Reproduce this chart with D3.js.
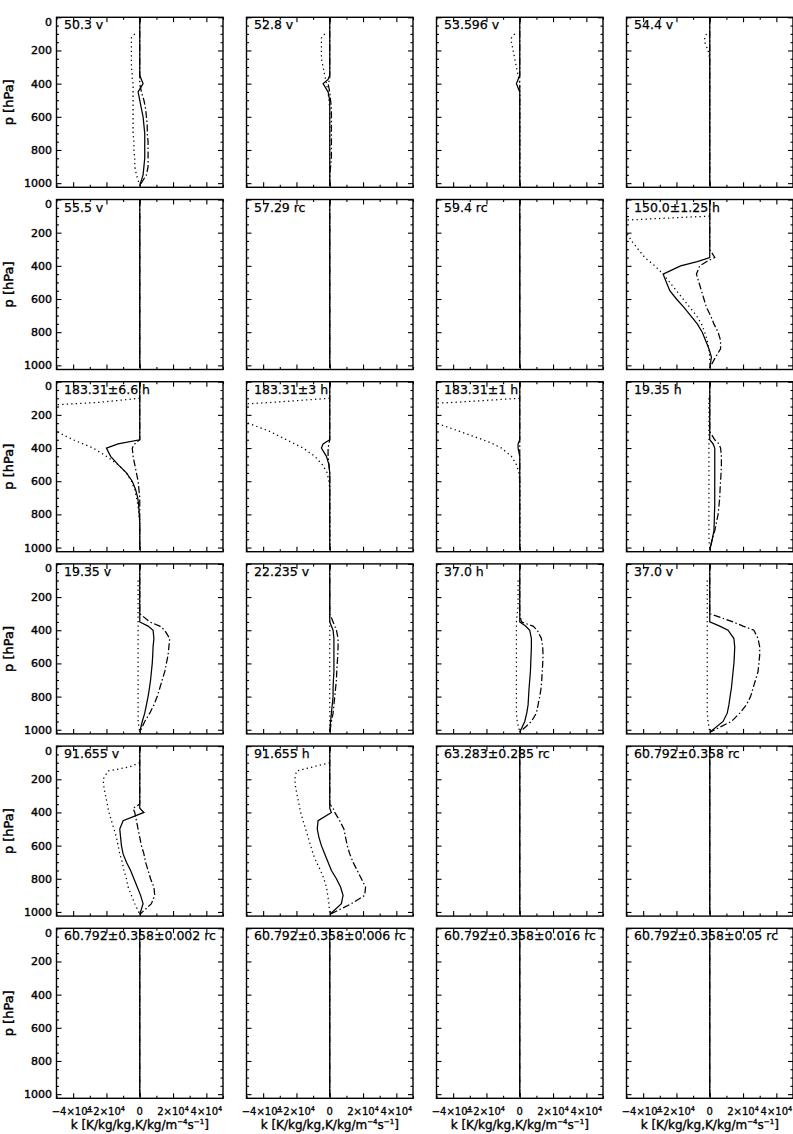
<!DOCTYPE html>
<html><head><meta charset="utf-8">
<script src="https://cdn.jsdelivr.net/npm/d3@7"></script>
<style>body{margin:0;background:#fff}svg{display:block}</style>
</head><body><svg id="c" width="793" height="1134"></svg>
<script>
// pressure levels [hPa]
const pressureLevels = [0,100,125,150,200,250,300,350,375,400,450,500,550,600,650,700,750,800,850,900,950,1015];
const panelTitles = [
  "50.3 v","52.8 v","53.596 v","54.4 v",
  "55.5 v","57.29 rc","59.4 rc","150.0±1.25 h",
  "183.31±6.6 h","183.31±3 h","183.31±1 h","19.35 h",
  "19.35 v","22.235 v","37.0 h","37.0 v",
  "91.655 v","91.655 h","63.283±0.285 rc","60.792±0.358 rc",
  "60.792±0.358±0.002 rc","60.792±0.358±0.006 rc","60.792±0.358±0.016 rc","60.792±0.358±0.05 rc"
];
// values in units of 1e4 K/kg/kg (one row per panel, one value per pressure level)
const VALUE_UNIT = 1e4;
const solidProfiles = [
  [0,0,0,0,0,0,0,0,0.1,0.2,-0.1,0,0.1,0.2,0.25,0.3,0.3,0.3,0.3,0.25,0.2,0],
  [0,0,0,0,0,0,0,0,-0.1,-0.4,-0.1,0,0,0,0,0,0,0,0,0,0,0],
  [0,0,0,0,0,0,0,0,-0.1,-0.2,0,0,0,0,0,0,0,0,0,0,0,0],
  [0,0,0,0,0,0,0,0,0,0,0,0,0,0,0,0,0,0,0,0,0,0],
  [0,0,0,0,0,0,0,0,0,0,0,0,0,0,0,0,0,0,0,0,0,0],
  [0,0,0,0,0,0,0,0,0,0,0,0,0,0,0,0,0,0,0,0,0,0],
  [0,0,0,0,0,0,0,0,0,0,0,0,0,0,0,0,0,0,0,0,0,0],
  [0,0,0,0,0,0,0,0,-0.75,-1.75,-2.8,-2.6,-2.4,-2.0,-1.55,-1.15,-0.75,-0.45,-0.25,-0.05,0.1,0],
  [0,0,0,0,0,0,0,0,-1.3,-2.0,-1.75,-1.3,-0.8,-0.45,-0.25,-0.12,-0.06,-0.03,0,0,0,0],
  [0,0,0,0,0,0,0,0,-0.4,-0.5,-0.2,-0.05,0,0,0,0,0,0,0,0,0,0],
  [0,0,0,0,0,0,0,0,-0.1,-0.1,0,0,0,0,0,0,0,0,0,0,0,0],
  [0,0,0,0,0,0,0,0,0.2,0.3,0.3,0.3,0.3,0.3,0.3,0.3,0.3,0.28,0.27,0.25,0.15,0],
  [0,0,0,0,0,0,0,0,0.5,0.8,0.85,0.8,0.78,0.75,0.7,0.65,0.58,0.5,0.4,0.3,0.15,0],
  [0,0,0,0,0,0,0,0,0.1,0.2,0.25,0.25,0.25,0.25,0.25,0.22,0.2,0.2,0.15,0.1,0.05,0],
  [0,0,0,0,0,0,0,0,0.35,0.6,0.7,0.7,0.68,0.66,0.64,0.6,0.56,0.53,0.5,0.42,0.3,0],
  [0,0,0,0,0,0,0,0,0.6,1.1,1.45,1.5,1.48,1.45,1.4,1.35,1.3,1.22,1.15,1.05,0.8,0],
  [0,0,0,0,0,0,0,0,0,0.25,-1.0,-1.2,-1.15,-1.1,-1.0,-0.8,-0.55,-0.35,-0.15,0.05,0.2,0],
  [0,0,0,0,0,0,0,0,0,0.1,-0.7,-0.75,-0.65,-0.5,-0.3,-0.1,0.1,0.4,0.65,0.8,0.7,0],
  [0,0,0,0,0,0,0,0,0,0,0,0,0,0,0,0,0,0,0,0,0,0],
  [0,0,0,0,0,0,0,0,0,0,0,0,0,0,0,0,0,0,0,0,0,0],
  [0,0,0,0,0,0,0,0,0,0,0,0,0,0,0,0,0,0,0,0,0,0],
  [0,0,0,0,0,0,0,0,0,0,0,0,0,0,0,0,0,0,0,0,0,0],
  [0,0,0,0,0,0,0,0,0,0,0,0,0,0,0,0,0,0,0,0,0,0],
  [0,0,0,0,0,0,0,0,0,0,0,0,0,0,0,0,0,0,0,0,0,0]
];
const dashDotProfiles = [
  [0,0,0,0,0,0,0,0,0,0,0.1,0.25,0.35,0.4,0.45,0.45,0.5,0.5,0.5,0.5,0.4,0],
  [0,0,0,0,0,0,0,0,0,-0.1,0,0.05,0.1,0.1,0.1,0.1,0.1,0.1,0.1,0.05,0,0],
  [0,0,0,0,0,0,0,0,0,0,0,0,0,0,0,0,0,0,0,0,0,0],
  [0,0,0,0,0,0,0,0,0,0,0,0,0,0,0,0,0,0,0,0,0,0],
  [0,0,0,0,0,0,0,0,0,0,0,0,0,0,0,0,0,0,0,0,0,0],
  [0,0,0,0,0,0,0,0,0,0,0,0,0,0,0,0,0,0,0,0,0,0],
  [0,0,0,0,0,0,0,0,0,0,0,0,0,0,0,0,0,0,0,0,0,0],
  [0,0,0,0,0,0,0,0.3,-0.2,-0.6,-0.8,-0.65,-0.5,-0.35,-0.2,0.05,0.25,0.5,0.65,0.65,0.35,0],
  [0,0,0,0,0,0,0,0,-0.3,-0.45,-0.4,-0.3,-0.2,-0.1,-0.05,0,0,0,0,0,0,0],
  [0,0,0,0,0,0,0,0,-0.05,-0.1,-0.1,-0.05,0,0,0,0,0,0,0,0,0,0],
  [0,0,0,0,0,0,0,0,0,0,0,0,0,0,0,0,0,0,0,0,0,0],
  [0,0,0,0,0,0,0,0.3,0.55,0.65,0.7,0.7,0.68,0.65,0.62,0.6,0.55,0.5,0.4,0.3,0.15,0],
  [0,0,0,0,0,0,0,0.6,1.2,1.5,1.8,1.75,1.7,1.6,1.5,1.35,1.2,1.05,0.85,0.6,0.3,0],
  [0,0,0,0,0,0,0,0.2,0.3,0.4,0.5,0.5,0.48,0.45,0.42,0.4,0.35,0.3,0.25,0.2,0.1,0],
  [0,0,0,0,0,0,0,0.1,0.8,1.05,1.3,1.38,1.4,1.38,1.35,1.32,1.28,1.2,1.1,1.0,0.7,0],
  [0,0,0,0,0,0,0,1.4,2.0,2.65,2.9,3.0,3.0,2.95,2.9,2.75,2.6,2.45,2.2,1.8,1.3,0],
  [0,0,0,0,0,0,0,0,-0.4,-0.3,-0.2,-0.1,0,0.1,0.25,0.35,0.5,0.65,0.85,0.9,0.7,0],
  [0,0,0,0,0,0,0,0,0.2,0.3,0.6,0.85,0.95,1.05,1.2,1.4,1.65,1.9,2.15,2.1,1.3,0],
  [0,0,0,0,0,0,0,0,0,0,0,0,0,0,0,0,0,0,0,0,0,0],
  [0,0,0,0,0,0,0,0,0,0,0,0,0,0,0,0,0,0,0,0,0,0],
  [0,0,0,0,0,0,0,0,0,0,0,0,0,0,0,0,0,0,0,0,0,0],
  [0,0,0,0,0,0,0,0,0,0,0,0,0,0,0,0,0,0,0,0,0,0],
  [0,0,0,0,0,0,0,0,0,0,0,0,0,0,0,0,0,0,0,0,0,0],
  [0,0,0,0,0,0,0,0,0,0,0,0,0,0,0,0,0,0,0,0,0,0]
];
const dottedProfiles = [
  [null,-0.3,-0.5,-0.5,-0.5,-0.5,-0.5,-0.45,-0.45,-0.4,-0.4,-0.4,-0.4,-0.4,-0.4,-0.4,-0.35,-0.35,-0.3,-0.3,-0.2,0],
  [null,-0.3,-0.5,-0.5,-0.5,-0.5,-0.4,-0.3,-0.25,-0.2,-0.1,-0.05,0,0,0,0,0,0,0,0,0,0],
  [null,-0.3,-0.5,-0.5,-0.4,-0.3,-0.2,-0.1,-0.05,0,0,0,0,0,0,0,0,0,0,0,0,0],
  [null,-0.2,-0.3,-0.3,-0.1,0,0,0,0,0,0,0,0,0,0,0,0,0,0,0,0,0],
  [null,0,0,0,0,0,0,0,0,0,0,0,0,0,0,0,0,0,0,0,0,0],
  [null,0,0,0,0,0,0,0,0,0,0,0,0,0,0,0,0,0,0,0,0,0],
  [null,0,0,0,0,0,0,0,0,0,0,0,0,0,0,0,0,0,0,0,0,0],
  [null,0,-5.2,-10,-5.0,-4.7,-4.3,-3.9,-3.6,-3.3,-2.8,-2.4,-2.0,-1.6,-1.2,-0.8,-0.5,-0.3,-0.15,-0.05,0,0],
  [null,0,-2.5,-7,-12,-9,-5.0,-4.0,-3.4,-2.8,-2.0,-1.3,-0.8,-0.5,-0.3,-0.2,-0.1,-0.05,0,0,0,0],
  [null,0,-3.5,-8,-9,-4.9,-3.6,-2.6,-2.1,-1.6,-0.9,-0.45,-0.15,-0.05,0,0,0,0,0,0,0,0],
  [null,0,-4,-9,-8,-5.0,-3.6,-2.2,-1.6,-1.1,-0.5,-0.2,-0.05,0,0,0,0,0,0,0,0,0],
  [null,-0.05,-0.05,-0.05,-0.05,-0.05,-0.05,-0.05,-0.05,-0.05,-0.05,-0.05,-0.05,-0.05,-0.05,-0.05,-0.05,-0.05,-0.05,-0.05,-0.05,0],
  [null,-0.1,-0.1,-0.1,-0.1,-0.1,-0.1,-0.1,-0.1,-0.1,-0.1,-0.1,-0.1,-0.1,-0.1,-0.1,-0.1,-0.1,-0.1,-0.1,-0.1,0],
  [null,0,0,0,0,0,0,0,0,0,0,0,0,0,0,0,0,0,0,0,0,0],
  [null,-0.1,-0.1,-0.1,-0.1,-0.1,-0.15,-0.2,-0.2,-0.2,-0.2,-0.2,-0.2,-0.2,-0.2,-0.2,-0.2,-0.2,-0.2,-0.2,-0.15,0],
  [null,-0.15,-0.15,-0.15,-0.15,-0.15,-0.15,-0.15,-0.15,-0.15,-0.15,-0.15,-0.15,-0.15,-0.15,-0.15,-0.15,-0.15,-0.15,-0.15,-0.1,0],
  [null,0,-0.6,-1.9,-2.2,-2.15,-2.05,-1.95,-1.9,-1.85,-1.7,-1.55,-1.4,-1.3,-1.2,-1.05,-0.95,-0.8,-0.7,-0.5,-0.3,0],
  [null,0,-1.0,-2.0,-2.1,-2.05,-1.95,-1.85,-1.8,-1.75,-1.6,-1.45,-1.3,-1.15,-1.0,-0.8,-0.55,-0.35,-0.2,-0.12,-0.05,0],
  [null,0,0,0,0,0,0,0,0,0,0,0,0,0,0,0,0,0,0,0,0,0],
  [null,0,0,0,0,0,0,0,0,0,0,0,0,0,0,0,0,0,0,0,0,0],
  [null,0,0,0,0,0,0,0,0,0,0,0,0,0,0,0,0,0,0,0,0,0],
  [null,0,0,0,0,0,0,0,0,0,0,0,0,0,0,0,0,0,0,0,0,0],
  [null,0,0,0,0,0,0,0,0,0,0,0,0,0,0,0,0,0,0,0,0,0],
  [null,0,0,0,0,0,0,0,0,0,0,0,0,0,0,0,0,0,0,0,0,0]
];
const xMajorTicks = [-4e4,-2e4,0,2e4,4e4];
const xMinorTicks = [-5e4,-3e4,-1e4,1e4,3e4,5e4];
const xTickMantissa = ["−4","−2","0","2","4"];
const yMajorTicks = [0,200,400,600,800,1000];
const yMinorTicks = [50,100,150,250,300,350,450,500,550,650,700,750,850,900,950];
const yAxisTitle = "p [hPa]";
const xAxisTitleParts = ["k [K/kg/kg,K/kg/m","−4","s","−1","]"];

const FONT = "'DejaVu Sans', sans-serif";
const svg = d3.select('#c');
const PW = 166.5, PH = 170;
const colLeft = c => 56.5 + 190 * c;
const rowTop = r => 17.3 + 182.2 * r;
const x = d3.scaleLinear().domain([-5e4, 5e4]).range([0, PW]);
const y = d3.scaleLinear().domain([0, 1025]).range([0, PH]);

const styles = [
  {data: solidProfiles, dash: null},
  {data: dashDotProfiles, dash: "7,2.5,1.5,2.5"},
  {data: dottedProfiles, dash: "1.3,3.2"}
];
const line = d3.line()
  .defined(d => d.v !== null)
  .x(d => x(d.v * VALUE_UNIT))
  .y(d => y(d.p));

function tickAxis(g, axisFn, scale, vals, len) {
  const a = axisFn(scale).tickValues(vals).tickSize(-len).tickFormat('');
  g.call(a);
  g.select('.domain').remove();
  g.selectAll('line').attr('stroke', '#000').attr('stroke-width', 1.1);
}
function heavy(sel, w) {
  return sel.attr('fill', '#000').attr('stroke', '#000').attr('stroke-width', w)
    .attr('font-family', FONT);
}

panelTitles.forEach((title, i) => {
  const r = Math.floor(i / 4), c = i % 4;
  const g = svg.append('g').attr('transform', `translate(${colLeft(c)},${rowTop(r)})`);
  const clipId = 'clip' + i;
  g.append('clipPath').attr('id', clipId).append('rect').attr('width', PW).attr('height', PH);
  const lg = g.append('g').attr('clip-path', `url(#${clipId})`);
  styles.forEach(s => {
    const pts = pressureLevels.map((p, k) => ({p, v: s.data[i][k]}));
    lg.append('path').attr('d', line(pts))
      .attr('fill', 'none').attr('stroke', '#000').attr('stroke-width', 1.25)
      .attr('stroke-dasharray', s.dash);
  });
  // ticks on all sides (inward)
  tickAxis(g.append('g'), d3.axisLeft, y, yMajorTicks, 5);
  tickAxis(g.append('g'), d3.axisLeft, y, yMinorTicks, 2.5);
  tickAxis(g.append('g').attr('transform', `translate(${PW},0)`), d3.axisRight, y, yMajorTicks, 5);
  tickAxis(g.append('g').attr('transform', `translate(${PW},0)`), d3.axisRight, y, yMinorTicks, 2.5);
  tickAxis(g.append('g'), d3.axisTop, x, xMajorTicks, 5);
  tickAxis(g.append('g'), d3.axisTop, x, xMinorTicks, 2.5);
  tickAxis(g.append('g').attr('transform', `translate(0,${PH})`), d3.axisBottom, x, xMajorTicks, 5);
  tickAxis(g.append('g').attr('transform', `translate(0,${PH})`), d3.axisBottom, x, xMinorTicks, 2.5);
  // frame
  g.append('rect').attr('width', PW).attr('height', PH)
    .attr('fill', 'none').attr('stroke', '#000').attr('stroke-width', 1.4);
  // title
  heavy(g.append('text').attr('x', 7.5).attr('y', 12).text(title), 0.25)
    .attr('font-size', 12.5);
  // y labels
  if (c === 0) {
    yMajorTicks.forEach(t => {
      heavy(g.append('text').attr('x', -4.5).attr('y', y(t) + (t === 0 ? 4.5 : 0) + 4)
        .attr('text-anchor', 'end').attr('font-size', 11).text(String(t)), 0.4);
    });
    heavy(g.append('text').attr('transform', `translate(${13 - colLeft(0)},${PH / 2}) rotate(-90)`)
      .attr('text-anchor', 'middle').attr('font-size', 13).text(yAxisTitle), 0.45);
  }
  // x labels on bottom row
  if (r === 5) {
    xMajorTicks.forEach((t, k) => {
      const tx = heavy(g.append('text').attr('x', x(t) + (t < 0 ? -1.5 : 0)).attr('y', PH + 16.5)
        .attr('text-anchor', 'middle').attr('font-size', 10), 0.3);
      if (t === 0) { tx.text('0'); return; }
      tx.append('tspan').text(xTickMantissa[k] + '×10');
      tx.append('tspan').attr('dy', -4).attr('font-size', 6.5).text('4');
    });
    const xt = heavy(g.append('text').attr('x', PW / 2).attr('y', PH + 30.5)
      .attr('text-anchor', 'middle').attr('font-size', 12), 0.35);
    xt.append('tspan').text(xAxisTitleParts[0]);
    xt.append('tspan').attr('dy', -4.5).attr('font-size', 7).text(xAxisTitleParts[1]);
    xt.append('tspan').attr('dy', 4.5).text(xAxisTitleParts[2]);
    xt.append('tspan').attr('dy', -4.5).attr('font-size', 7).text(xAxisTitleParts[3]);
    xt.append('tspan').attr('dy', 4.5).text(xAxisTitleParts[4]);
  }
});
</script>
</body></html>
